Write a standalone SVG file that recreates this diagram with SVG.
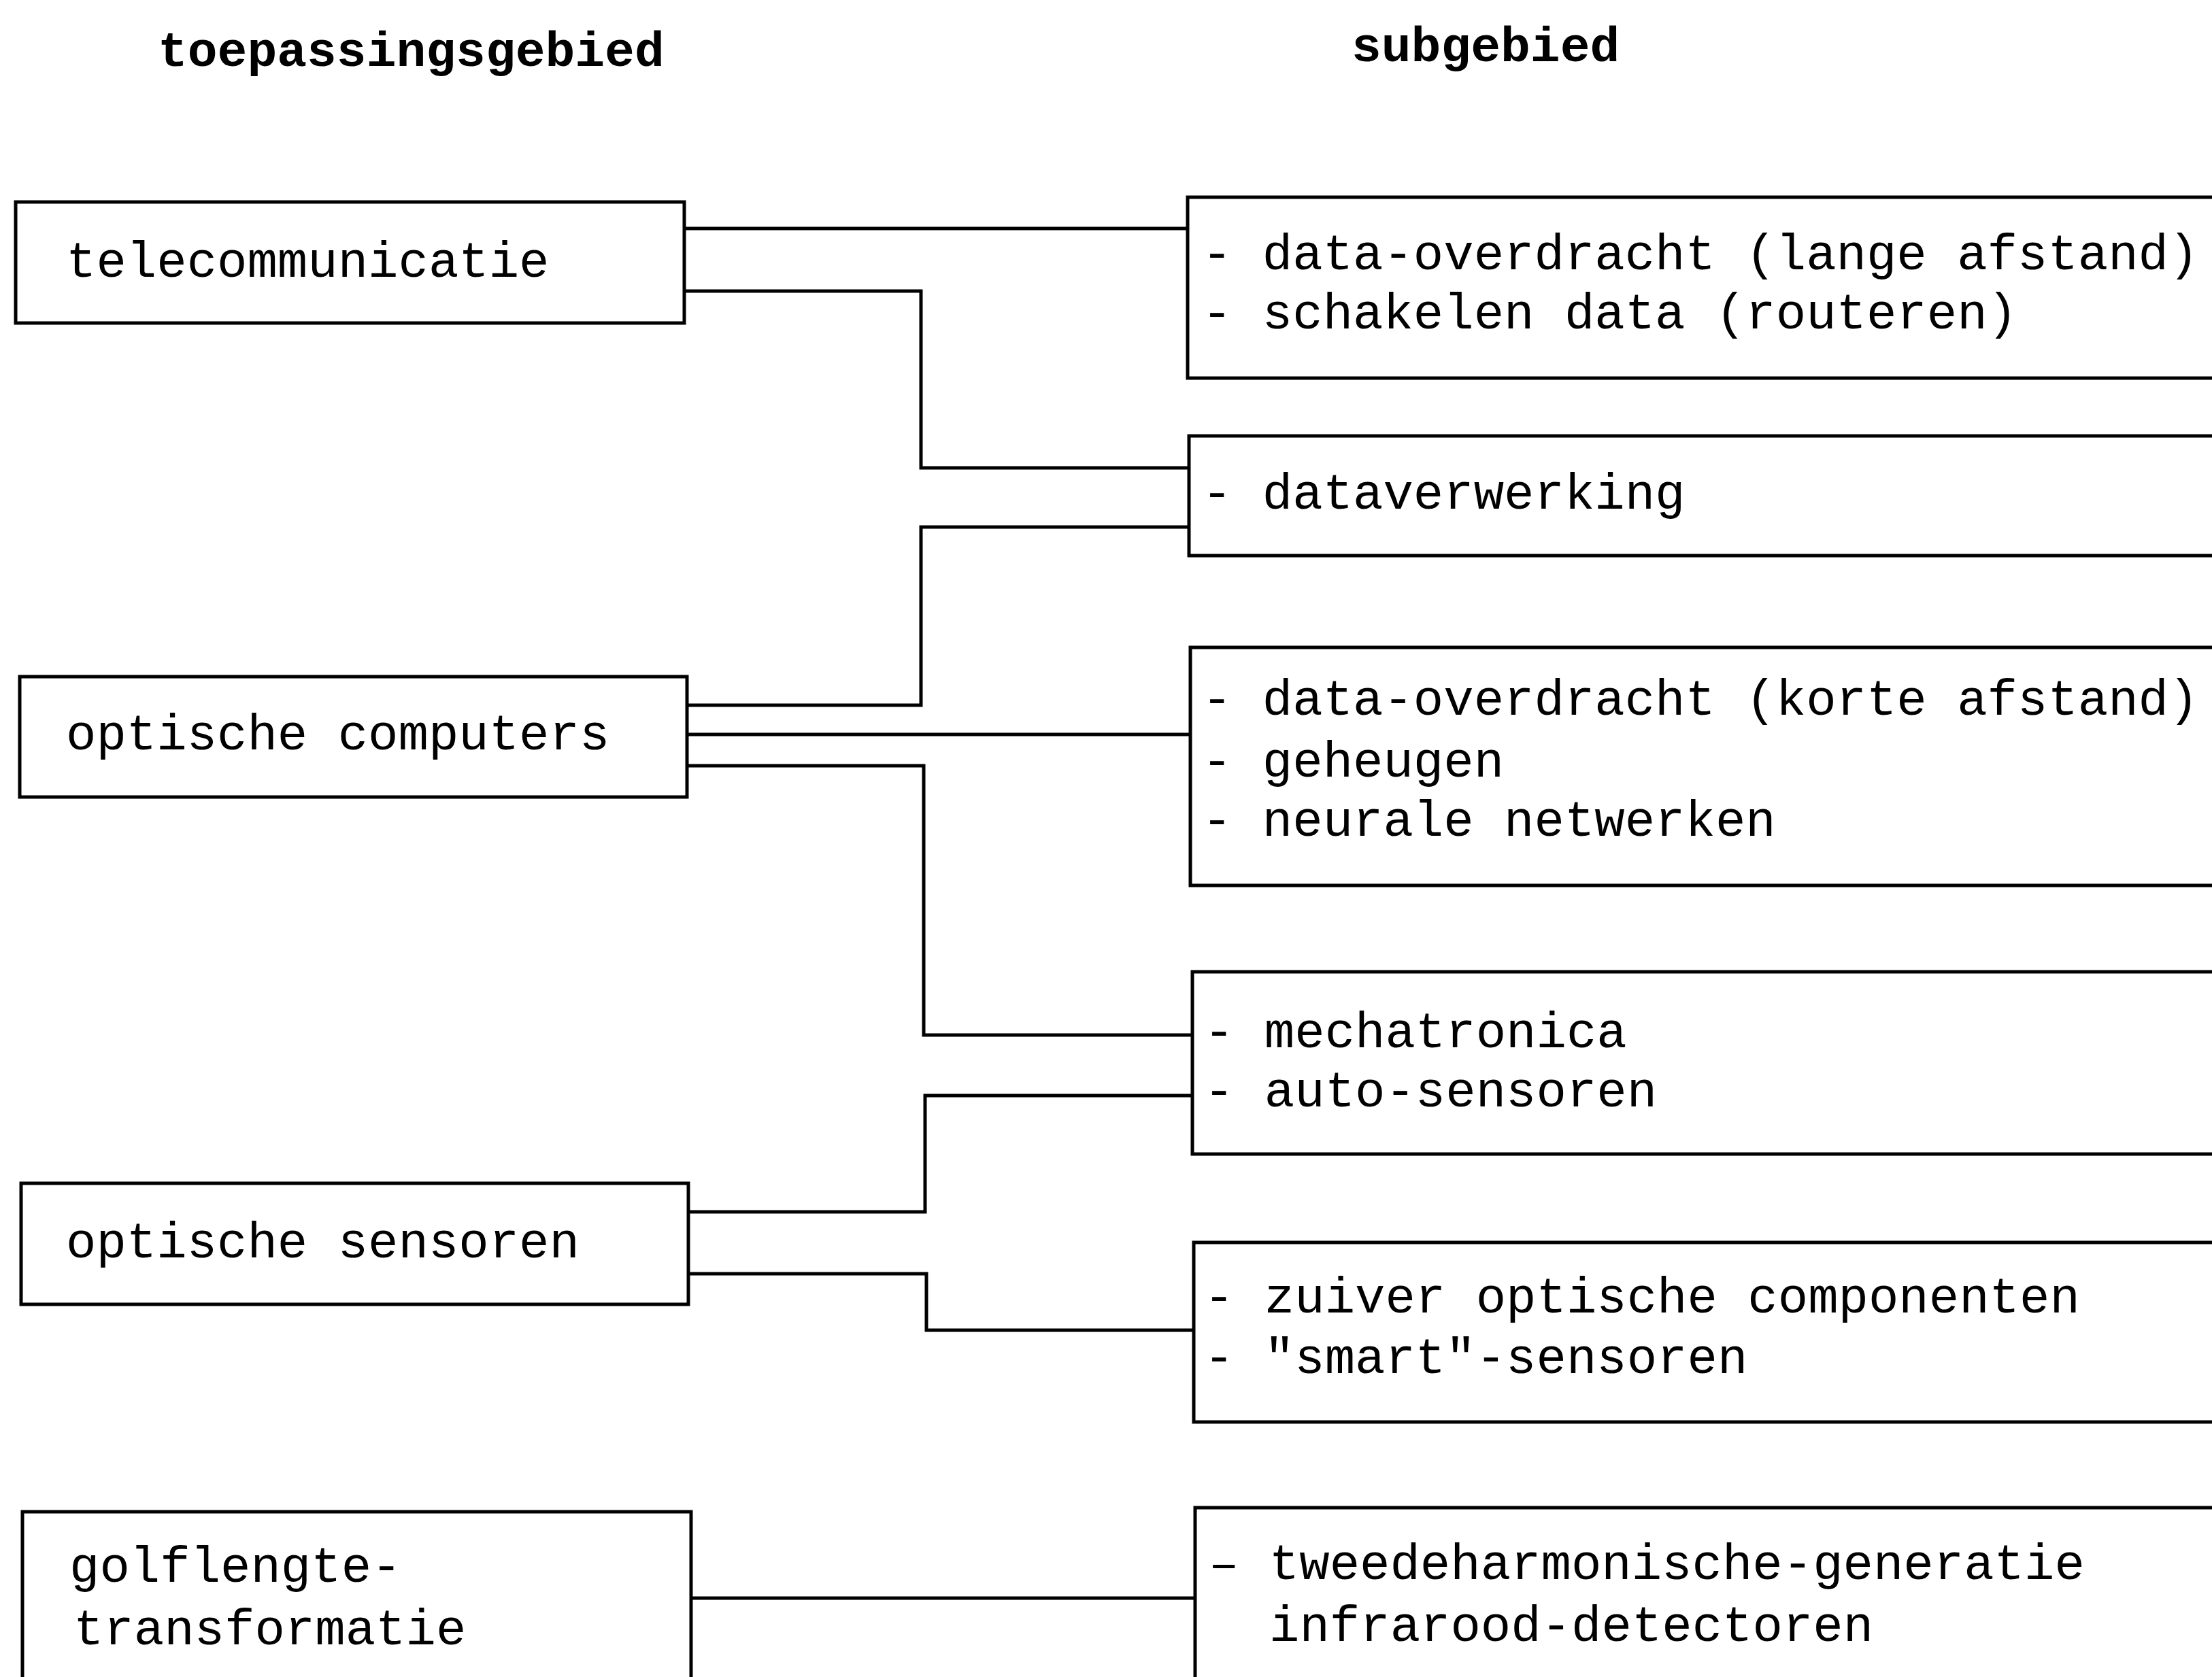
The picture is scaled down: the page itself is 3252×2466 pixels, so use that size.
<svg xmlns="http://www.w3.org/2000/svg" width="3252" height="2466" viewBox="0 0 3252 2466">
<style>
.box{fill:#fff;stroke:#000;stroke-width:5}
.ln{fill:none;stroke:#000;stroke-width:5}
text{font-family:"Liberation Mono","DejaVu Sans Mono",monospace;font-size:74px;fill:#000}
.h{font-weight:bold;font-size:73px}
</style>
<rect width="3252" height="2466" fill="#fff"/>
<text class="h" x="232" y="97">toepassingsgebied</text>
<text class="h" x="1987" y="90">subgebied</text>
<g id="connectors">
<path class="ln" d="M1006 336 H1746"/>
<path class="ln" d="M1006 428 H1354 V688 H1748"/>
<path class="ln" d="M1010 1037 H1354 V775 H1748"/>
<path class="ln" d="M1010 1080 H1750"/>
<path class="ln" d="M1010 1126 H1358 V1522 H1753"/>
<path class="ln" d="M1012 1782 H1360 V1611 H1753"/>
<path class="ln" d="M1012 1873 H1362 V1956 H1755"/>
<path class="ln" d="M1016 2350 H1757"/>
</g>
<g id="n-telecom"><rect class="box" x="23" y="297" width="983" height="178"/><text x="97" y="407">telecommunicatie</text></g>
<g id="n-computers"><rect class="box" x="29" y="995" width="981" height="177"/><text x="97" y="1102">optische computers</text></g>
<g id="n-sensoren"><rect class="box" x="31" y="1740" width="981" height="178"/><text x="97" y="1849">optische sensoren</text></g>
<g id="n-golf"><rect class="box" x="33" y="2223" width="983" height="300"/><text x="102" y="2326">golflengte-</text><text x="108" y="2418">transformatie</text></g>
<g id="s-a"><rect class="box" x="1746" y="290" width="1600" height="266"/><text x="1767" y="396">- data-overdracht (lange afstand)</text><text x="1767" y="483">- schakelen data (routeren)</text></g>
<g id="s-b"><rect class="box" x="1748" y="641" width="1600" height="176"/><text x="1767" y="748">- dataverwerking</text></g>
<g id="s-c"><rect class="box" x="1750" y="952" width="1600" height="350"/><text x="1767" y="1051">- data-overdracht (korte afstand)</text><text x="1767" y="1142">- geheugen</text><text x="1767" y="1229">- neurale netwerken</text></g>
<g id="s-d"><rect class="box" x="1753" y="1429" width="1600" height="268"/><text x="1770" y="1540">- mechatronica</text><text x="1770" y="1627">- auto-sensoren</text></g>
<g id="s-e"><rect class="box" x="1755" y="1827" width="1600" height="264"/><text x="1770" y="1930">- zuiver optische componenten</text><text x="1770" y="2019">- "smart"-sensoren</text></g>
<g id="s-f"><rect class="box" x="1757" y="2217" width="1600" height="300"/><text x="1777" y="2322">– tweedeharmonische-generatie</text><text x="1866" y="2413">infrarood-detectoren</text></g>
</svg>
